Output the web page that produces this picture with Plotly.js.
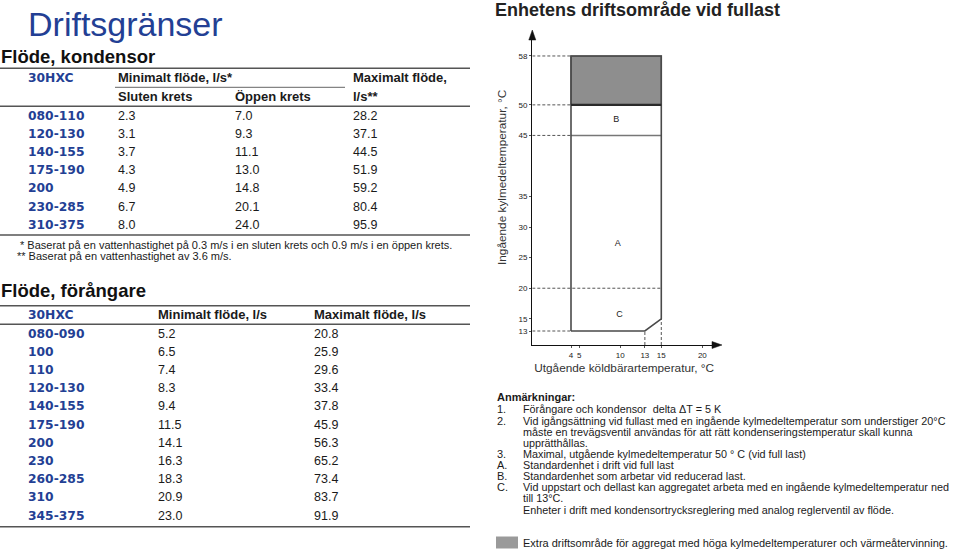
<!DOCTYPE html>
<html>
<head>
<meta charset="utf-8">
<script src="https://cdn.plot.ly/plotly-3.0.1.min.js"></script>
<style>
html,body{margin:0;padding:0;background:#fff;}
#chart{width:960px;height:551px;}
</style>
</head>
<body>
<div id="chart"></div>
<script>
// ---------- DATA ----------
// Condenser flow table (30HXC)
const kondModels = ['080-110','120-130','140-155','175-190','200','230-285','310-375'];
const kondSluten = [2.3, 3.1, 3.7, 4.3, 4.9, 6.7, 8.0];
const kondOppen  = [7.0, 9.3, 11.1, 13.0, 14.8, 20.1, 24.0];
const kondMax    = [28.2, 37.1, 44.5, 51.9, 59.2, 80.4, 95.9];

// Evaporator flow table (30HXC)
const forModels = ['080-090','100','110','120-130','140-155','175-190','200','230','260-285','310','345-375'];
const forMin = [5.2, 6.5, 7.4, 8.3, 9.4, 11.5, 14.1, 16.3, 18.3, 20.9, 23.0];
const forMax = [20.8, 25.9, 29.6, 33.4, 37.8, 45.9, 56.3, 65.2, 73.4, 83.7, 91.9];

// Operating envelope (outlet brine temp °C, inlet coolant temp °C)
const envOutlet = [4, 4, 15, 15, 13, 4];
const envInlet  = [13, 58, 58, 15, 13, 13];
// Extra operating area (grey)
const extraOutlet = [4, 15, 15, 4, 4];
const extraInlet  = [50, 50, 58, 58, 50];
// Zone boundaries
const zoneBTop = 50;      // top of B (max outlet coolant)
const zoneBBottom = 45;   // A / B boundary
const startupLimit = 20;  // C boundary
const outletMin = 4, outletMax = 15, outletCorner = 13;
const inletMin = 13, inletCorner = 15, inletMax = 58;

const xTicks = [4, 5, 10, 13, 15, 20];
const yTicks = [13, 15, 20, 25, 30, 35, 45, 50, 58];

const zoneLabels = ['A', 'B', 'C'];
const zoneLabelX = [9.7, 9.5, 9.9];
const zoneLabelY = [27.3, 47.5, 15.6];

const notesKeys = ['1.', '2.', '', '', '3.', 'A.', 'B.', 'C.', '', ''];
const notesText = [
  'Förångare och kondensor  delta ΔT = 5 K',
  'Vid igångsättning vid fullast med en ingående kylmedeltemperatur som understiger 20°C',
  'måste en trevägsventil användas för att rätt kondenseringstemperatur skall kunna',
  'upprätthållas.',
  'Maximal, utgående kylmedeltemperatur 50 ° C (vid full last)',
  'Standardenhet i drift vid full last',
  'Standardenhet som arbetar vid reducerad last.',
  'Vid uppstart och dellast kan aggregatet arbeta med en ingående kylmedeltemperatur ned',
  'till 13°C.',
  'Enheter i drift med kondensortrycksreglering med analog reglerventil av flöde.'
];

// ---------- LAYOUT HELPERS ----------
const W = 960, H = 551;
const REG = 'Liberation Sans, Arial, Helvetica, sans-serif';
const HEAVY = 'DejaVu Sans, Verdana, sans-serif';
const BLUE = '#233f94';
const px = x => x / W;
const py = y => 1 - y / H;
const annotations = [];
const shapes = [];
function T(text, x, y, size, opts) {
  opts = opts || {};
  annotations.push({
    text: text, x: px(x), y: py(y), xref: 'paper', yref: 'paper',
    xanchor: opts.xanchor || 'left', yanchor: 'middle', showarrow: false,
    textangle: opts.angle || 0,
    font: {family: opts.family || REG, size: size, color: opts.color || '#1a1a1a'}
  });
}
function HL(x0, x1, y, color, w) {
  shapes.push({type: 'line', xref: 'paper', yref: 'paper', x0: px(x0), x1: px(x1), y0: py(y), y1: py(y),
    line: {color: color || '#555', width: w || 1.5}});
}
function tri(points) {
  const d = 'M' + points.map(p => px(p[0]) + ',' + py(p[1])).join(' L') + ' Z';
  shapes.push({type: 'path', xref: 'paper', yref: 'paper', path: d, fillcolor: '#111', line: {color: '#111', width: 0.5}});
}

// Page title
T('Driftsgränser', 26, 24, 34, {color: BLUE});

// ---- Condenser table ----
T('<b>Flöde, kondensor</b>', -1, 57, 18.5, {color: '#111'});
HL(0, 470, 68.3, '#555', 1.6);
T('<b>30HXC</b>', 26, 77.5, 12.3, {family: HEAVY, color: BLUE});
T('<b>Minimalt flöde, l/s*</b>', 116, 77.5, 13);
T('<b>Maximalt flöde,</b>', 351, 77.5, 13);
HL(115, 345, 87.3, '#666', 1);
T('<b>Sluten krets</b>', 116, 96, 13);
T('<b>Öppen krets</b>', 233, 96, 13);
T('<b>l/s**</b>', 351, 96, 13);
HL(0, 470, 106.3, '#555', 1.6);
kondModels.forEach((m, i) => {
  const y = 116 + i * 18.1;
  T('<b>' + m + '</b>', 26, y, 12.3, {family: HEAVY, color: BLUE});
  T(kondSluten[i].toFixed(1), 116, y, 12.5);
  T(kondOppen[i].toFixed(1), 233, y, 12.5);
  T(kondMax[i].toFixed(1), 351, y, 12.5);
});
HL(0, 470, 235, '#555', 1.6);
T('* Baserat på en vattenhastighet på 0.3 m/s i en sluten krets och 0.9 m/s i en öppen krets.', 18, 244.5, 11);
T('** Baserat på en vattenhastighet av 3.6 m/s.', 15, 256, 11);

// ---- Evaporator table ----
T('<b>Flöde, förångare</b>', -1, 290, 18.5, {color: '#111'});
HL(0, 470, 305.7, '#555', 1.6);
T('<b>30HXC</b>', 26, 314.5, 12.3, {family: HEAVY, color: BLUE});
T('<b>Minimalt flöde, l/s</b>', 156, 314.5, 13);
T('<b>Maximalt flöde, l/s</b>', 312, 314.5, 13);
HL(0, 470, 324.3, '#555', 1.6);
forModels.forEach((m, i) => {
  const y = 333.5 + i * 18.2;
  T('<b>' + m + '</b>', 26, y, 12.3, {family: HEAVY, color: BLUE});
  T(forMin[i].toFixed(1), 156, y, 12.5);
  T(forMax[i].toFixed(1), 312, y, 12.5);
});
HL(0, 470, 526.7, '#555', 1.6);

// ---- Notes ----
T('<b>Anmärkningar:</b>', 495, 397, 11);
const noteY = [409.3, 420.8, 432.3, 443.3, 454.3, 465.3, 476.3, 487.3, 498.3, 509.6];
notesText.forEach((t, i) => {
  if (notesKeys[i]) T(notesKeys[i], 495, noteY[i], 11);
  T(t, 520.5, noteY[i], 10.8);
});
shapes.push({type: 'rect', xref: 'paper', yref: 'paper', x0: px(496), x1: px(518), y0: py(548.5), y1: py(536.5),
  fillcolor: '#9a9a9a', line: {width: 0}});
T('Extra driftsområde för aggregat med höga kylmedeltemperaturer och värmeåtervinning.', 520.5, 542.5, 11);

// Y axis title (placed as rotated text to match the reference position)
T('Ingående kylmedeltemperatur, °C', 502, 177, 11.8, {angle: -90, xanchor: 'center', color: '#333'});

// Axis arrowheads
tri([[532.3, 30], [528.8, 40], [535.8, 40]]);
tri([[722, 345], [712, 341.5], [712, 348.5]]);

// ---------- CHART ----------
const xr = [-0.714, 22.03];
const yr = [10.71, 61.76];
const DASH = {color: '#555', width: 1, dash: '3px,2px'};
const traces = [];
const skip = {hoverinfo: 'skip', showlegend: false};
// grey extra area
traces.push(Object.assign({x: extraOutlet, y: extraInlet, mode: 'lines', fill: 'toself', fillcolor: '#8e8e8e',
  line: {color: '#444', width: 1.2}}, skip));
// horizontal dashed guides to envelope left edge
[inletMax, zoneBTop, zoneBBottom, inletMin].forEach(v => {
  traces.push(Object.assign({x: [xr[0], outletMin], y: [v, v], mode: 'lines', line: DASH}, skip));
});
// 20°C dashed across the box
traces.push(Object.assign({x: [xr[0], outletMax], y: [startupLimit, startupLimit], mode: 'lines', line: DASH}, skip));
// vertical dashed guides
traces.push(Object.assign({x: [outletCorner, outletCorner], y: [yr[0], inletMin], mode: 'lines', line: DASH}, skip));
traces.push(Object.assign({x: [outletMax, outletMax], y: [yr[0], inletCorner], mode: 'lines', line: DASH}, skip));
// A/B boundary
traces.push(Object.assign({x: [outletMin, outletMax], y: [zoneBBottom, zoneBBottom], mode: 'lines', line: {color: '#777', width: 1.6}}, skip));
// envelope outline
traces.push(Object.assign({x: envOutlet, y: envInlet, mode: 'lines', line: {color: '#4a4a4a', width: 1.6}}, skip));
// B top (max outlet coolant)
traces.push(Object.assign({x: [outletMin, outletMax], y: [zoneBTop, zoneBTop], mode: 'lines', line: {color: '#2a2a2a', width: 2.4}}, skip));
// zone labels
traces.push(Object.assign({x: zoneLabelX, y: zoneLabelY, text: zoneLabels, mode: 'text', textposition: 'middle center',
  textfont: {family: REG, size: 9, color: '#222'}}, skip));

const layout = {
  width: W, height: H,
  margin: {l: 0, r: 0, t: 0, b: 0},
  paper_bgcolor: '#fff', plot_bgcolor: 'rgba(0,0,0,0)',
  showlegend: false,
  title: {text: '<b>Enhetens driftsområde vid fullast</b>', x: px(495), xanchor: 'left', y: py(10), yanchor: 'middle',
    font: {family: REG, size: 18, color: '#222'}},
  xaxis: {domain: [px(532.3), px(716)], range: [xr[0], xr[0] + (xr[1] - xr[0]) * (716 - 532.3) / (719 - 532.3)],
    showgrid: false, zeroline: false,
    showline: true, linecolor: '#111', linewidth: 1.3,
    tickvals: xTicks, ticktext: xTicks.map(String), ticks: 'outside', ticklen: 2, tickcolor: '#555',
    tickfont: {family: REG, size: 8, color: '#222'},
    title: {text: 'Utgående köldbärartemperatur, °C', font: {family: REG, size: 11.8, color: '#333'}, standoff: 4}},
  yaxis: {domain: [py(345), py(36)], range: [yr[0], yr[0] + (yr[1] - yr[0]) * (345 - 36) / (345 - 33)],
    showgrid: false, zeroline: false,
    showline: true, linecolor: '#111', linewidth: 1.3,
    tickvals: yTicks, ticktext: yTicks.map(String), ticks: 'outside', ticklen: 2, tickcolor: '#555',
    tickfont: {family: REG, size: 8, color: '#222'}},
  annotations: annotations,
  shapes: shapes
};

Plotly.newPlot('chart', traces, layout, {displayModeBar: false, staticPlot: true});
</script>
</body>
</html>
